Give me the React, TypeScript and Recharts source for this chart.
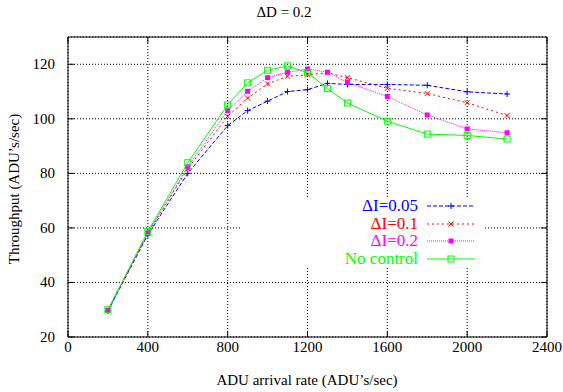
import React from "react";
import {
  LineChart,
  Line,
  XAxis,
  YAxis,
  CartesianGrid,
  ReferenceArea,
} from "recharts";

const rates = [200, 400, 600, 800, 900, 1000, 1100, 1200, 1300, 1400, 1600, 1800, 2000, 2200];
const dI005 = [29.5, 57.5, 80, 97.5, 103, 106.5, 110, 110.7, 113, 112.6, 112.6, 112.3, 109.9, 109.1];
const dI01 = [29.7, 58, 81.7, 100.9, 107.6, 112.8, 115.6, 116.1, 116.9, 115.1, 111.2, 109.3, 105.9, 101.2];
const dI02 = [29.8, 58.2, 82.4, 103, 110.1, 115.1, 117.1, 118.3, 117.1, 113.4, 108.2, 101.4, 96.3, 94.9];
const noControl = [30, 58.7, 83.9, 105.1, 113.2, 117.8, 119.4, 116.9, 111.1, 105.8, 99.1, 94.4, 93.9, 92.6];

const xTicks = [0, 400, 800, 1200, 1600, 2000, 2400];
const yTicks = [20, 40, 60, 80, 100, 120];

const data = rates.map((rate, i) => ({
  rate,
  dI005: dI005[i],
  dI01: dI01[i],
  dI02: dI02[i],
  noControl: noControl[i],
}));

const series = [
  { key: "dI005", name: "ΔI=0.05", color: "#0000ff", dash: "4 2", marker: "plus" },
  { key: "dI01", name: "ΔI=0.1", color: "#ff0000", dash: "2 3", marker: "cross" },
  { key: "dI02", name: "ΔI=0.2", color: "#ff00ff", dash: "1 1", marker: "filled" },
  { key: "noControl", name: "No control", color: "#00ff00", dash: undefined, marker: "square" },
];

const W = 563;
const H = 392;
const PLOT_LEFT = 68;
const PLOT_RIGHT = 547;
const PLOT_TOP = 37;
const PLOT_BOTTOM = 337;
const FONT = "'Liberation Serif', 'DejaVu Serif', serif";

function marker(kind: string, cx: number, cy: number, color: string, key?: any) {
  if (cx == null || cy == null) return <g key={key} />;
  if (kind === "plus") {
    return (
      <g key={key} stroke={color} strokeWidth={1}>
        <line x1={cx - 3} x2={cx + 3} y1={cy} y2={cy} />
        <line x1={cx} x2={cx} y1={cy - 3} y2={cy + 3} />
      </g>
    );
  }
  if (kind === "cross") {
    return (
      <g key={key} stroke={color} strokeWidth={1}>
        <line x1={cx - 2.5} x2={cx + 2.5} y1={cy - 2.5} y2={cy + 2.5} />
        <line x1={cx - 2.5} x2={cx + 2.5} y1={cy + 2.5} y2={cy - 2.5} />
      </g>
    );
  }
  if (kind === "filled") {
    return <rect key={key} x={cx - 2.5} y={cy - 2.5} width={5} height={5} fill={color} />;
  }
  return (
    <rect key={key} x={cx - 3} y={cy - 3} width={6} height={6} fill="none" stroke={color} strokeWidth={1} />
  );
}

function XTick(props: any) {
  const { x, payload } = props;
  return (
    <g>
      <line x1={x} x2={x} y1={PLOT_BOTTOM} y2={PLOT_BOTTOM - 6} stroke="#000" />
      <line x1={x} x2={x} y1={PLOT_TOP} y2={PLOT_TOP + 6} stroke="#000" />
      <text x={x} y={352} textAnchor="middle" fontFamily={FONT} fontSize={15} fill="#000">
        {payload.value}
      </text>
    </g>
  );
}

function YTick(props: any) {
  const { y, payload } = props;
  return (
    <g>
      <line x1={PLOT_LEFT} x2={PLOT_LEFT + 6} y1={y} y2={y} stroke="#000" />
      <line x1={PLOT_RIGHT} x2={PLOT_RIGHT - 6} y1={y} y2={y} stroke="#000" />
      <text x={55} y={y + 5} textAnchor="end" fontFamily={FONT} fontSize={15} fill="#000">
        {payload.value}
      </text>
    </g>
  );
}

export default function App() {
  return (
    <div style={{ position: "absolute", left: 0, top: 0, width: W, height: H, background: "#fff", fontFamily: FONT }}>
      <LineChart width={W} height={H} data={data} margin={{ top: PLOT_TOP, right: W - PLOT_RIGHT, left: 0, bottom: 0 }}>
        <CartesianGrid stroke="#000" strokeDasharray="1 2" />
        <XAxis
          dataKey="rate"
          type="number"
          domain={[0, 2400]}
          ticks={xTicks}
          height={H - PLOT_BOTTOM}
          axisLine={false}
          tickLine={false}
          tick={<XTick />}
          interval={0}
        />
        <YAxis
          type="number"
          domain={[20, 130]}
          ticks={yTicks}
          width={PLOT_LEFT}
          axisLine={false}
          tickLine={false}
          tick={<YTick />}
          interval={0}
        />
        <ReferenceArea x1={0} x2={2400} y1={20} y2={130} fill="none" fillOpacity={0} stroke="#000" strokeWidth={1} />
        {series.map((s) => (
          <Line
            key={s.key}
            type="linear"
            dataKey={s.key}
            name={s.name}
            stroke={s.color}
            strokeWidth={1}
            strokeDasharray={s.dash}
            isAnimationActive={false}
            dot={(p: any) => marker(s.marker, p.cx, p.cy, s.color, p.index)}
            activeDot={false}
          />
        ))}
      </LineChart>

      {/* legend, white box hides the grid like gnuplot does */}
      <div style={{ position: "absolute", left: 242, top: 197, width: 243, height: 71, background: "#fff" }}>
        {series.map((s) => (
          <div key={s.key} style={{ display: "flex", alignItems: "center", height: 17.5 }}>
            <span style={{ width: 176, textAlign: "right", fontSize: 17, lineHeight: "17.5px", color: s.color }}>
              {s.name}
            </span>
            <svg width={48} height={17.5} style={{ marginLeft: 9 }}>
              <line x1={0} x2={48} y1={9} y2={9} stroke={s.color} strokeDasharray={s.dash} />
              {marker(s.marker, 24, 9, s.color)}
            </svg>
          </div>
        ))}
      </div>

      <div style={{ position: "absolute", left: 284, top: 12, transform: "translate(-50%, -50%)", fontSize: 15, whiteSpace: "nowrap" }}>
        ΔD = 0.2
      </div>
      <div style={{ position: "absolute", left: 307, top: 380, transform: "translate(-50%, -50%)", fontSize: 15, whiteSpace: "nowrap" }}>
        ADU arrival rate (ADU’s/sec)
      </div>
      <div
        style={{
          position: "absolute",
          left: 14,
          top: 189,
          transform: "translate(-50%, -50%) rotate(-90deg)",
          fontSize: 15,
          whiteSpace: "nowrap",
        }}
      >
        Throughput (ADU’s/sec)
      </div>
    </div>
  );
}
